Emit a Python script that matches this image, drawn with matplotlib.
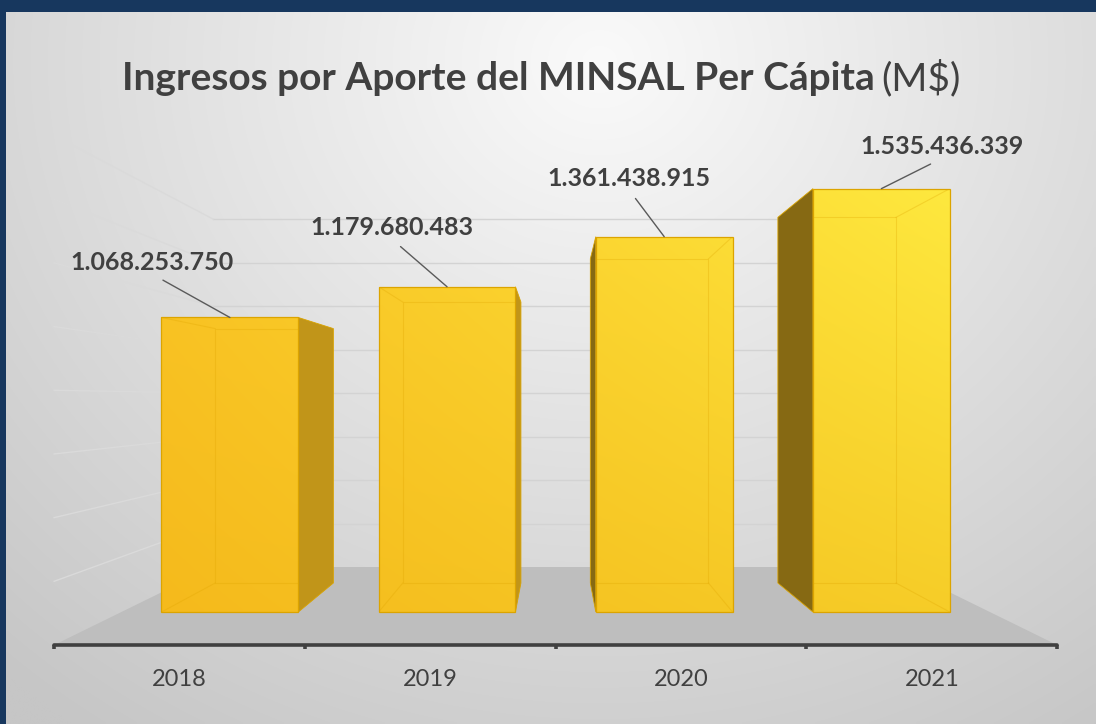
import numpy as np
import matplotlib
matplotlib.use('Agg')
import matplotlib.pyplot as plt
from matplotlib.patches import Polygon
from matplotlib.colors import to_rgb


anios = ['2018', '2019', '2020', '2021']
ingresos = [1068253750, 1179680483, 1361438915, 1535436339]
grid_vals = [200, 400, 600, 800, 1000, 1200, 1400, 1600]   # millones

W, H = 1096, 724

# ... perspectiva (px de referencia)
PX0, PXS = 179.5, 250.75      # px de la categoria 0 y px por categoria (plano frontal)
PY0, PYS = 645.0, 0.3184      # px del valor 0 y px por millon
IV, VV = 1.5, 772.6           # punto de fuga en coordenadas del plano frontal
S_F, S_B, S_WALL = 0.866, 0.748, 0.683
BAR_W = 0.63

# desplazamiento de las etiquetas (px, y hacia arriba)
lab_off = [(-78, 55), (-55, 59), (-35, 58), (61, 42)]

TXT = '#404040'
FONT = 'Lato'


def proj(x, v, s):
    return IV + (x - IV) * s, VV + (v - VV) * s


def fmt_cl(n):
    return f"{n:,}".replace(',', '.')


def main():
    fig = plt.figure(figsize=(W / 100, H / 100), dpi=100, facecolor='#17375e')

    # ... fondo gris con degradado radial
    bg = fig.add_axes([6 / W, 0, 1 - 6 / W, 1 - 12 / H])
    gx, gy = np.meshgrid(np.linspace(6, W, 300), np.linspace(12, H, 200))
    r = np.clip(np.hypot(gx - 600, (gy - 60) * 1.1) / 900, 0, 1)[..., None]
    c0, c1 = np.array(to_rgb('#fafafa')), np.array(to_rgb('#c6c6c6'))
    bg.imshow(c0 * (1 - r) + c1 * r, extent=[0, 1, 0, 1], aspect='auto',
              origin='upper', interpolation='bilinear')
    bg.axis('off')

    ax = fig.add_axes([0, 0, 1, 1])
    ax.patch.set_alpha(0)

    vals = [v / 1e6 for v in ingresos]
    n = len(vals)

    # ... piso
    piso = [proj(-0.5, 0, 1), proj(n - 0.5, 0, 1), proj(n - 0.5, 0, S_WALL), proj(-0.5, 0, S_WALL)]
    ax.add_patch(Polygon(piso, closed=True, fc='#bebebe', ec='none', zorder=1))

    # ... lineas de division (pared del fondo y pared izquierda)
    for g in grid_vals:
        a = proj(-0.5, g, S_WALL)
        b = proj(n - 0.5, g, S_WALL)
        c = proj(-0.5, g, 1)
        ax.plot([a[0], b[0]], [a[1], b[1]], color='#d3d3d3', lw=1.0, zorder=1.5)
        ax.plot([c[0], a[0]], [c[1], a[1]], color='#dadada', lw=1.0, zorder=1.5)

    # ... caras laterales
    for i, v in enumerate(vals):
        xl, xr = i - BAR_W / 2, i + BAR_W / 2
        if xr < IV:
            xe, col = xr, '#c19519'
        elif xl > IV:
            xe, col = xl, '#866913'
        else:
            continue
        cara = [proj(xe, 0, S_F), proj(xe, v, S_F), proj(xe, v, S_B), proj(xe, 0, S_B)]
        ax.add_patch(Polygon(cara, closed=True, fc=col, ec='#d9a300', lw=0.6, zorder=3))

    # ... caras frontales
    xs_f = [IV + (i - IV) * S_F for i in range(n)]
    alt = [v * S_F for v in vals]
    base = VV * (1 - S_F)
    wf = BAR_W * S_F
    bars = ax.bar(xs_f, alt, width=wf, bottom=base, color='none',
                  edgecolor='#dca400', lw=0.9, zorder=5)

    lt, lb = np.array([250, 198, 38]) / 255, np.array([245, 186, 28]) / 255
    rt, rb = np.array([254, 232, 62]) / 255, np.array([246, 205, 40]) / 255
    ytop = base + max(alt)
    xa, xb = xs_f[0] - wf / 2, xs_f[-1] + wf / 2
    for i, rect in enumerate(bars):
        x0, x1 = xs_f[i] - wf / 2, xs_f[i] + wf / 2
        y1 = base + alt[i]
        tx = (np.linspace(x0, x1, 20) - xa) / (xb - xa)
        uy = (np.linspace(base, y1, 60) - base) / (ytop - base)
        T, U = np.meshgrid(tx, uy)
        T, U = T[..., None], U[..., None]
        top = lt * (1 - T) + rt * T
        bot = lb * (1 - T) + rb * T
        img = bot * (1 - U) + top * U
        im = ax.imshow(img, extent=[x0, x1, base, y1], origin='lower',
                       aspect='auto', interpolation='bilinear', zorder=4)
        im.set_clip_path(rect)

        # ... aristas interiores (efecto transparente)
        xl, xr = i - BAR_W / 2, i + BAR_W / 2
        v = vals[i]
        back = [proj(xl, 0, S_B), proj(xr, 0, S_B), proj(xr, v, S_B), proj(xl, v, S_B), proj(xl, 0, S_B)]
        ln, = ax.plot([p[0] for p in back], [p[1] for p in back], color='#e0a500', lw=0.8,
                      alpha=0.3, zorder=4.5)
        ln.set_clip_path(rect)
        for xe in (xl, xr):
            for ve in (0, v):
                a, b = proj(xe, ve, S_F), proj(xe, ve, S_B)
                ln, = ax.plot([a[0], b[0]], [a[1], b[1]], color='#e0a500', lw=0.8,
                              alpha=0.3, zorder=4.5)
                ln.set_clip_path(rect)

    # ... etiquetas de datos
    for i, v in enumerate(ingresos):
        ax.annotate(fmt_cl(v), xy=(xs_f[i], base + alt[i]), xytext=lab_off[i],
                    textcoords='offset pixels', ha='center', va='center',
                    fontsize=18, fontweight='bold', family=FONT, color=TXT, zorder=6,
                    arrowprops=dict(arrowstyle='-', color='#5a5a5a', lw=1.0,
                                    relpos=(0.5, 0), shrinkA=5, shrinkB=0))

    # ... eje de categorias
    for s in ['top', 'left', 'right']:
        ax.spines[s].set_visible(False)
    sp = ax.spines['bottom']
    sp.set_position(('data', 0))
    sp.set_bounds(-0.5, n - 0.5)
    sp.set_color(TXT)
    sp.set_linewidth(2.6)
    sp.set_capstyle('round')
    ax.set_yticks([])
    ax.set_xticks(np.arange(-0.5, n, 1))
    ax.set_xticklabels([])
    ax.set_xticks(range(n), minor=True)
    ax.set_xticklabels(anios, minor=True, family=FONT, fontsize=17, color=TXT)
    ax.tick_params(axis='x', which='major', length=3, width=2.6, color=TXT, direction='out')
    ax.tick_params(axis='x', which='minor', length=0, pad=17)

    ax.set_xlim(-PX0 / PXS, (W - PX0) / PXS)
    ax.set_ylim((PY0 - H) / PYS, PY0 / PYS)

    # ... titulo
    t1 = fig.text(122 / W, 1 - 90 / H, 'Ingresos por Aporte del MINSAL Per Cápita',
                  family=FONT, fontweight='bold', fontsize=28, color=TXT, va='baseline', ha='left')
    fig.canvas.draw()
    bb = t1.get_window_extent()
    fig.text(bb.x1 / W + 7 / W, 1 - 90 / H, '(M$)', family=FONT, fontsize=28,
             color=TXT, va='baseline', ha='left')

    fig.savefig('out.png', dpi=100, facecolor=fig.get_facecolor())


if __name__ == "__main__":
    main()
